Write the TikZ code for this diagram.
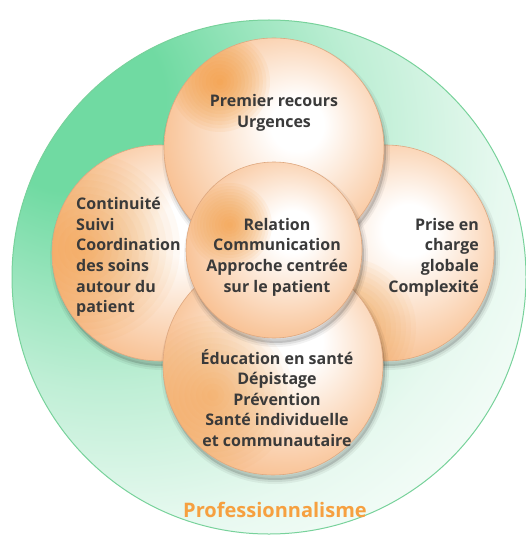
\documentclass[tikz,border=0pt]{standalone}
\usepackage{fontspec}
\setmainfont{Open Sans}
\definecolor{mint}{RGB}{112,218,162}
\definecolor{leaf}{RGB}{120,210,155}
\definecolor{peach}{RGB}{248,190,142}
\definecolor{apricot}{RGB}{244,150,50}
\definecolor{rim}{RGB}{222,168,128}
\definecolor{ink}{RGB}{58,58,58}
\definecolor{tangerine}{RGB}{246,160,64}
\pgfdeclareradialshading{lawn}{\pgfpoint{-21bp}{19bp}}{color(0bp)=(mint); color(9bp)=(mint); color(17bp)=(mint!72!white); color(25bp)=(mint!45!white); color(36bp)=(mint!17!white); color(48bp)=(white); color(100bp)=(white)}
\pgfdeclareradialshading{petal}{\pgfpoint{6bp}{6bp}}{color(0bp)=(white); color(6bp)=(white); color(30bp)=(peach); color(50bp)=(peach)}
\begin{document}
\begin{tikzpicture}[x=1pt,y=-1pt]
	\tikzset{shadowed/.style={preaction={fill=black,opacity=.14,transform canvas={shift={(2pt,-5pt)}}},
			preaction={draw=black,line width=4pt,opacity=.07,transform canvas={shift={(2pt,-5pt)}}},
			preaction={draw=black,line width=8pt,opacity=.05,transform canvas={shift={(2pt,-5pt)}}}},
		petal/.style n args={3}{circle,draw=rim,line width=.6pt,shade,shading=petal,shadowed,
			path picture={\foreach \k in {1,...,14}
				\fill[apricot,opacity=#3](path picture bounding box.center)++(#1)circle(\k/14*#2);}},
		words/.style={font=\fontsize{16}{20.6}\selectfont\bfseries,text=ink,inner sep=0pt}}
	\useasboundingbox(0,0)rectangle(526,540);
	\node[circle,minimum size=514pt,draw=leaf,line width=1pt,shade,shading=lawn](frame)at(269,277){};
	% the four fields
	\node[petal={-75,-5}{95pt}{.05},minimum size=216pt](follow)at(160,253){};
	\node[petal={-40,75}{70pt}{.05},minimum size=216pt](global)at(386,253){};
	\node[petal={-54,-66}{50pt}{.08},minimum size=220pt](first)at(274,148){};
	\node[petal={-60,30}{80pt}{.045},minimum size=220pt](care)at(273,365){};
	\node[petal={-44,-25}{42pt}{.07},minimum size=176pt](core)at(274,250){};
	% texts
	\node[words,align=center](firsttext)at(274,113){Premier recours\\Urgences};
	\node[words,align=left,anchor=west](followtext)at(76,257){Continuité\\Suivi\\Coordination\\des soins\\autour du\\patient};
	\node[words,align=right,anchor=east](globaltext)at(479,257){Prise en\\charge\\globale\\Complexité};
	\node[words,align=center](coretext)at(277,257){Relation\\Communication\\Approche centrée\\sur le patient};
	\node[words,align=center](caretext)at(277,398){Éducation en santé\\Dépistage\\Prévention\\Santé individuelle\\et communautaire};
	\node[font=\fontsize{20}{23}\selectfont\bfseries,text=tangerine](frametext)at(275,510){Professionnalisme};
\end{tikzpicture}
\end{document}
